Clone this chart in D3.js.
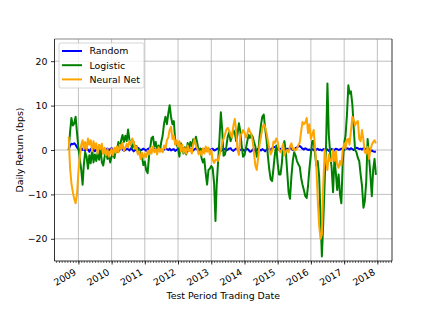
<!DOCTYPE html>
<html>
<head>
<meta charset="utf-8">
<script src="https://cdn.jsdelivr.net/npm/d3@7"></script>
<style>
  body { margin: 0; background: #fff; }
  text { font-family: "DejaVu Sans", sans-serif; fill: #000; }
</style>
</head>
<body>
<svg id="chart" width="436" height="327"></svg>
<script>
// Semi-monthly observation dates of the test period
const dates = [
  "2008-09-16","2008-10-01","2008-10-16","2008-11-01","2008-11-16","2008-12-01","2008-12-16",
  "2009-01-01","2009-01-16","2009-02-01","2009-02-16","2009-03-01","2009-03-16","2009-04-01","2009-04-16","2009-05-01","2009-05-16","2009-06-01","2009-06-16","2009-07-01","2009-07-16","2009-08-01","2009-08-16","2009-09-01","2009-09-16","2009-10-01","2009-10-16","2009-11-01","2009-11-16","2009-12-01","2009-12-16",
  "2010-01-01","2010-01-16","2010-02-01","2010-02-16","2010-03-01","2010-03-16","2010-04-01","2010-04-16","2010-05-01","2010-05-16","2010-06-01","2010-06-16","2010-07-01","2010-07-16","2010-08-01","2010-08-16","2010-09-01","2010-09-16","2010-10-01","2010-10-16","2010-11-01","2010-11-16","2010-12-01","2010-12-16",
  "2011-01-01","2011-01-16","2011-02-01","2011-02-16","2011-03-01","2011-03-16","2011-04-01","2011-04-16","2011-05-01","2011-05-16","2011-06-01","2011-06-16","2011-07-01","2011-07-16","2011-08-01","2011-08-16","2011-09-01","2011-09-16","2011-10-01","2011-10-16","2011-11-01","2011-11-16","2011-12-01","2011-12-16",
  "2012-01-01","2012-01-16","2012-02-01","2012-02-16","2012-03-01","2012-03-16","2012-04-01","2012-04-16","2012-05-01","2012-05-16","2012-06-01","2012-06-16","2012-07-01","2012-07-16","2012-08-01","2012-08-16","2012-09-01","2012-09-16","2012-10-01","2012-10-16","2012-11-01","2012-11-16","2012-12-01","2012-12-16",
  "2013-01-01","2013-01-16","2013-02-01","2013-02-16","2013-03-01","2013-03-16","2013-04-01","2013-04-16","2013-05-01","2013-05-16","2013-06-01","2013-06-16","2013-07-01","2013-07-16","2013-08-01","2013-08-16","2013-09-01","2013-09-16","2013-10-01","2013-10-16","2013-11-01","2013-11-16","2013-12-01","2013-12-16",
  "2014-01-01","2014-01-16","2014-02-01","2014-02-16","2014-03-01","2014-03-16","2014-04-01","2014-04-16","2014-05-01","2014-05-16","2014-06-01","2014-06-16","2014-07-01","2014-07-16","2014-08-01","2014-08-16","2014-09-01","2014-09-16","2014-10-01","2014-10-16","2014-11-01","2014-11-16","2014-12-01","2014-12-16",
  "2015-01-01","2015-01-16","2015-02-01","2015-02-16","2015-03-01","2015-03-16","2015-04-01","2015-04-16","2015-05-01","2015-05-16","2015-06-01","2015-06-16","2015-07-01","2015-07-16","2015-08-01","2015-08-16","2015-09-01","2015-09-16","2015-10-01","2015-10-16","2015-11-01","2015-11-16","2015-12-01","2015-12-16",
  "2016-01-01","2016-01-16","2016-02-01","2016-02-16","2016-03-01","2016-03-16","2016-04-01","2016-04-16","2016-05-01","2016-05-16","2016-06-01","2016-06-16","2016-07-01","2016-07-16","2016-08-01","2016-08-16","2016-09-01","2016-09-16","2016-10-01","2016-10-16","2016-11-01","2016-11-16","2016-12-01","2016-12-16",
  "2017-01-01","2017-01-16","2017-02-01","2017-02-16","2017-03-01","2017-03-16","2017-04-01","2017-04-16","2017-05-01","2017-05-16","2017-06-01","2017-06-16","2017-07-01","2017-07-16","2017-08-01","2017-08-16","2017-09-01","2017-09-16","2017-10-01","2017-10-16","2017-11-01","2017-11-16","2017-12-01","2017-12-16"
];

// Daily return (bps), rolling, one value per date
const randomReturns = [
  0, 1, 1.4, 1.3, 1.5, 1.2, 0.6,
  0.2, -0.3, 0.4, 0, 0.5, -0.2, 0.3, 0.1, -0.4, 0.2, 0.5, 0, -0.3, 0.1, 0.3, -0.2, 0.2, 0.4, 0, -0.3, 0.1, 0.3, -0.1, 0.2,
  0.4, 0, -0.2, 0.3, 0.1, -0.3, 0.2, 0.5, 0.1, -0.2, 0, 0.3, 0.2, -0.1, 0.4, 0.1, -0.3, 0, 0.3, 0.5, 0.2, -0.1, 0.1, 0.3,
  0.1, -0.2, 0.2, 0.4, 0, -0.3, 0.1, 0.3, -0.1, 0.2, 0.5, 0.3, 0, -0.2, 0.1, 0.4, 0.2, 0, 0.3, -0.1, 0.1, 0.2, -0.2, 0,
  0.3, 0.1, -0.2, 0.2, 0.4, 0, 0.2, -0.3, 0.1, 0.3, 0, -0.1, 0.2, 0.4, 0.1, -0.2, 0.3, 0.1, 0, 0.2, -0.1, 0.3, 0.2, 0,
  0.1, 0.3, -0.1, 0, 0.2, 0.4, 0.1, -0.2, 0, 0.3, 0.2, -0.1, 0.1, 0.3, 0.4, 0, -0.2, 0.1, 0.3, 0.2, -0.1, 0, 0.2, 0.1,
  -0.2, 0.1, 0.3, 0, -0.4, -0.3, 0.1, 0.2, -0.2, 0, 0.3, 0.1, -0.1, 0.2, 0, -0.3, 0.1, 0.3, 0.2, 0, 0.4, 0.6, 0.7, 0.5,
  0.2, 0, 0.3, 0.1, -0.2, -0.4, 0, 0.3, 0.1, 0.5, 0.3, 0, 0.2, 0.4, 0.6, 0.8, 0.9, 0.6, 0.3, 0.1, 0.4, 0.2, 0, 0.1,
  -0.1, 0.2, 0, -0.2, 0.1, 0.3, 0, 0.1, -0.1, 0.2, 0, 0.3, 0.1, -0.2, 0, 0.2, 0.1, -0.1, 0.3, 0.2, 0, 0.1, 0.3, 0.2,
  0, 0.2, 0.4, 0.3, 0.1, 0.4, 0.2, 0, 0.3, 0.5, 0.4, 0.2, 0.3, 0.1, 0.4, 0.3, 0.2, 0, 0.1, -0.2, -0.1, -0.3, -0.4, -0.4
];

const logisticReturns = [
  0, 4, 7.2, 5.5, 6, 7.5, 4,
  0.5, -2, -4.5, -7.8, -3.5, -0.5, -1.5, -4.2, -1.2, -3, 0.2, -2.8, -1, -2.5, -0.5, -2.2, 0.3, -2.8, -3.5, -1.5, -0.3, -2, -1, -2.8,
  -1.5, -0.8, -1.8, 0.2, -0.5, 1.8, 0.3, 2.2, 3.4, 1.8, 3.2, 2, 4.6, 2.2, 1.5, 0.4, 1.8, 0.2, 0.9, -0.6, 0.3, -1, -1.5, -3.4,
  -2.6, -4.5, -5.2, -1.5, 0.5, 2.7, 3.0, 0.8, 1.8, -0.2, 1, -0.3, 1.8, 3.2, 6, 7.5, 5.8, 8.2, 10.1, 7.5, 5.8, 6.5, 2.2, 1.3,
  0.4, -1.5, 1.5, 0.2, -0.8, 0.6, -1, 1.6, 0.3, 1.8, 0.8, 2.4, 1.5, 3.0, 1.4, -0.5, 0.3, -1.8, -2.8, -2, -5.4, -7.8, -4.5, -4.2,
  -3.6, -4.1, -7.5, -16, -8, -3, 2.5, 8.5, 4.5, -1.3, -1, 0.8, 3, 4, 2, 3, 4.5, 4, 2, 3.5, 6, 4.2, 1, -1.5,
  -1.2, 0.3, 2, 3.4, 2.7, 3.5, 3, 1.8, 0.8, -1.5, -0.6, 3, 5.6, 7.5, 8, 4.9, 2.2, -1.5, -4.5, -6.6, -7, -4.1, -1, 1,
  -3, -5.5, -5.5, -3, 0.7, 2, -0.5, -5, -9.5, -11, -6, -2.5, -0.5, -1.2, -2.5, -3.2, -3.8, -6.3, -7.8, -9, -10.4, -10.8, -8, -4.2,
  -1, 2, 2, -0.8, -3.5, -2.5, -6, -15, -24, -16.5, -7, 1, 15, 3.5, -1, -4, -9.5, -2, -5, -9, -5.5, -10, -12, -3,
  1.5, 3.2, 8, 14.6, 12.7, 13.2, 10.3, 5, 0, -0.5, -1.8, -2.5, -5.5, -8, -13, -11.5, -7, 2.5, -1.5, -5.5, -10.4, -4.5, -2, -5.6
];

const neuralNetReturns = [
  3, -4, -7.5, -9.5, -11, -12, -10,
  -5, -1.5, 1.2, 2.2, 0.2, 1.8, 0, 2.6, 1.2, 2.2, -0.3, 2, 0.4, 1.5, -0.8, 1.2, 0.2, 1.4, -0.9, 0.5, -1.2, 0.2, -1.5, -0.5,
  0.3, -1.2, 0.5, -0.6, 0.8, -0.5, 1.2, 0.2, 1.6, -0.2, 0.5, 1.4, 0.6, 2, 1.2, 2.6, 1.8, 0.3, 0.8, -1, -0.3, -2, -0.6, -1.8,
  -0.8, -1.6, -0.2, -1, 0.4, -0.8, 0.8, -0.5, 0.2, -1, 0.6, -0.4, 0.3, -0.5, 1, 0.3, 2.2, 2.8, 4.5, 5.2, 2.5, 3.2, 1.2, 2.2,
  0.8, 2, -0.3, 1.2, -0.6, 0.4, -0.8, 1, -0.3, 0.2, -0.8, 1.3, 2.4, 1, 0.3, -1, -0.3, -1.2, 0.4, -0.8, 0.8, -0.4, 0.5, -1,
  0, -2.2, -2.9, -2.2, -2.2, -2.4, -1.2, 0, 1.7, 2.5, 3.5, 4.6, 5.0, 4.4, 3.5, 2.8, 5.5, 7, 4.5, 0, -1.1, 3.2, 3.7, 4.5,
  4, 2.8, 3.6, 4.9, 4.2, 3.6, 2, -0.8, -3.6, -4.5, -1.6, 1.2, 3, 4.8, 5.8, 5.2, 3.8, 2, 0.3, -1, -0.2, 1.9, 1.6, 2.6,
  1.8, 0, -0.5, 0.2, 1.4, -1.2, -0.3, 0, -0.5, 0.8, 1.5, 0.1, 0.3, -0.1, 0.3, 1.1, 1.7, 4.2, 6.3, 5.8, 6.2, 7.2, 3.8, 5.8,
  2.5, 3.5, 4.5, 0.5, -3.5, -11, -17, -20, -19, -8, 0, -2.5, -4.5, -1, -2.5, -2.5, 0, -2.4, -0.2, -3.3, -4, -2.5, -3.5, 0,
  1.5, 0.3, 2.4, 2.5, 1.2, 4.2, 7.5, 6.8, 5.5, 6.3, 6.5, 2.5, 2, 4.5, 2.2, -0.5, -0.8, 0.7, -2, 0, 1.2, 1.8, 2.2, 1.5
];

const seriesNames = ["Random", "Logistic", "Neural Net"];
const seriesColors = ["blue", "green", "orange"];
const yearTicks = ["2009", "2010", "2011", "2012", "2013", "2014", "2015", "2016", "2017", "2018"];
const yTicks = [-20, -10, 0, 10, 20];
const xDomain = ["2008-04-13", "2018-06-11"];
const yDomain = [-25, 25];

// Plot box
const plot = { left: 54.5, right: 392, top: 39, bottom: 261 };
const fontSize = 9.4;

const parse = d3.utcParse("%Y-%m-%d");
const svg = d3.select("#chart");

const x = d3.scaleUtc()
  .domain(xDomain.map(parse))
  .range([plot.left, plot.right]);

const y = d3.scaleLinear()
  .domain(yDomain)
  .range([plot.bottom, plot.top]);

const yearDates = yearTicks.map(t => parse(t + "-01-01"));

// Grid
const grid = svg.append("g").attr("class", "grid")
  .attr("stroke", "#b0b0b0")
  .attr("stroke-width", 0.8);

grid.selectAll("line.gx")
  .data(yearDates)
  .join("line")
    .attr("class", "gx")
    .attr("x1", d => x(d)).attr("x2", d => x(d))
    .attr("y1", plot.top).attr("y2", plot.bottom);

grid.selectAll("line.gy")
  .data(yTicks)
  .join("line")
    .attr("class", "gy")
    .attr("x1", plot.left).attr("x2", plot.right)
    .attr("y1", d => y(d)).attr("y2", d => y(d));

// Lines
const series = [randomReturns, logisticReturns, neuralNetReturns];
const parsedDates = dates.map(parse);

const line = d3.line()
  .x((d, i) => x(parsedDates[i]))
  .y(d => y(d));

svg.append("defs").append("clipPath")
  .attr("id", "plotclip")
  .append("rect")
    .attr("x", plot.left).attr("y", plot.top)
    .attr("width", plot.right - plot.left)
    .attr("height", plot.bottom - plot.top);

svg.append("g")
  .attr("clip-path", "url(#plotclip)")
  .selectAll("path")
  .data(series)
  .join("path")
    .attr("d", d => line(d))
    .attr("fill", "none")
    .attr("stroke", (d, i) => seriesColors[i])
    .attr("stroke-width", 2)
    .attr("stroke-linejoin", "round");

// Y axis
const yAxis = svg.append("g")
  .attr("transform", "translate(" + plot.left + ",0)")
  .call(d3.axisLeft(y)
    .tickValues(yTicks)
    .tickSize(3.5)
    .tickPadding(3.5)
    .tickFormat(d => d < 0 ? "\u2212" + Math.abs(d) : d));
yAxis.select(".domain").remove();
yAxis.selectAll("line").attr("stroke", "#000").attr("stroke-width", 0.8);
yAxis.selectAll("text")
  .style("font-size", fontSize + "px")
  .style("font-family", "DejaVu Sans")
  .attr("fill", "#000");

// X axis: monthly minor ticks, yearly major ticks
const xMinor = svg.append("g")
  .attr("transform", "translate(0," + plot.bottom + ")")
  .call(d3.axisBottom(x)
    .tickValues(d3.utcMonth.range(...x.domain()))
    .tickSize(2)
    .tickFormat(""));
xMinor.select(".domain").remove();
xMinor.selectAll("line").attr("stroke", "#000").attr("stroke-width", 0.6);

const xMajor = svg.append("g")
  .attr("transform", "translate(0," + plot.bottom + ")")
  .call(d3.axisBottom(x)
    .tickValues(yearDates)
    .tickSize(3.5)
    .tickFormat(""));
xMajor.select(".domain").remove();
xMajor.selectAll("line").attr("stroke", "#000").attr("stroke-width", 0.8);

// Rotated year labels, right aligned to the tick
svg.append("g")
  .selectAll("text")
  .data(yearDates)
  .join("text")
    .attr("transform", d => "translate(" + (x(d) - 1.5) + "," + (plot.bottom + 13) + ")rotate(-30)")
    .attr("text-anchor", "end")
    .style("font-size", fontSize + "px")
    .text((d, i) => yearTicks[i]);

// Spines
svg.append("line")
  .attr("x1", plot.left).attr("x2", plot.right)
  .attr("y1", plot.top).attr("y2", plot.top)
  .attr("stroke", "#888").attr("stroke-width", 1.2);
svg.append("line")
  .attr("x1", plot.right).attr("x2", plot.right)
  .attr("y1", plot.top).attr("y2", plot.bottom)
  .attr("stroke", "#000").attr("stroke-width", 0.8);
svg.append("line")
  .attr("x1", plot.left).attr("x2", plot.left)
  .attr("y1", plot.top).attr("y2", plot.bottom)
  .attr("stroke", "#000").attr("stroke-width", 0.8);
svg.append("line")
  .attr("x1", plot.left).attr("x2", plot.right)
  .attr("y1", plot.bottom).attr("y2", plot.bottom)
  .attr("stroke", "#000").attr("stroke-width", 0.8);

// Axis labels
svg.append("text")
  .attr("x", (plot.left + plot.right) / 2)
  .attr("y", 299)
  .attr("text-anchor", "middle")
  .style("font-size", fontSize + "px")
  .text("Test Period Trading Date");

svg.append("text")
  .attr("transform", "translate(22.5," + ((plot.top + plot.bottom) / 2) + ")rotate(-90)")
  .attr("text-anchor", "middle")
  .style("font-size", fontSize + "px")
  .text("Daily Return (bps)");

// Legend
const legend = svg.append("g").attr("class", "legend");
legend.append("rect")
  .attr("x", 59).attr("y", 43)
  .attr("width", 85).attr("height", 45)
  .attr("rx", 2)
  .attr("fill", "#fff").attr("fill-opacity", 0.8)
  .attr("stroke", "#ccc").attr("stroke-width", 0.8);

const items = legend.selectAll("g.item")
  .data(seriesNames)
  .join("g")
    .attr("class", "item")
    .attr("transform", (d, i) => "translate(0," + (51 + i * 14.2) + ")");
items.append("line")
  .attr("x1", 62).attr("x2", 82)
  .attr("stroke", (d, i) => seriesColors[i])
  .attr("stroke-width", 2);
items.append("text")
  .attr("x", 89.5)
  .attr("y", 3.4)
  .style("font-size", fontSize + "px")
  .text(d => d);
</script>
</body>
</html>
